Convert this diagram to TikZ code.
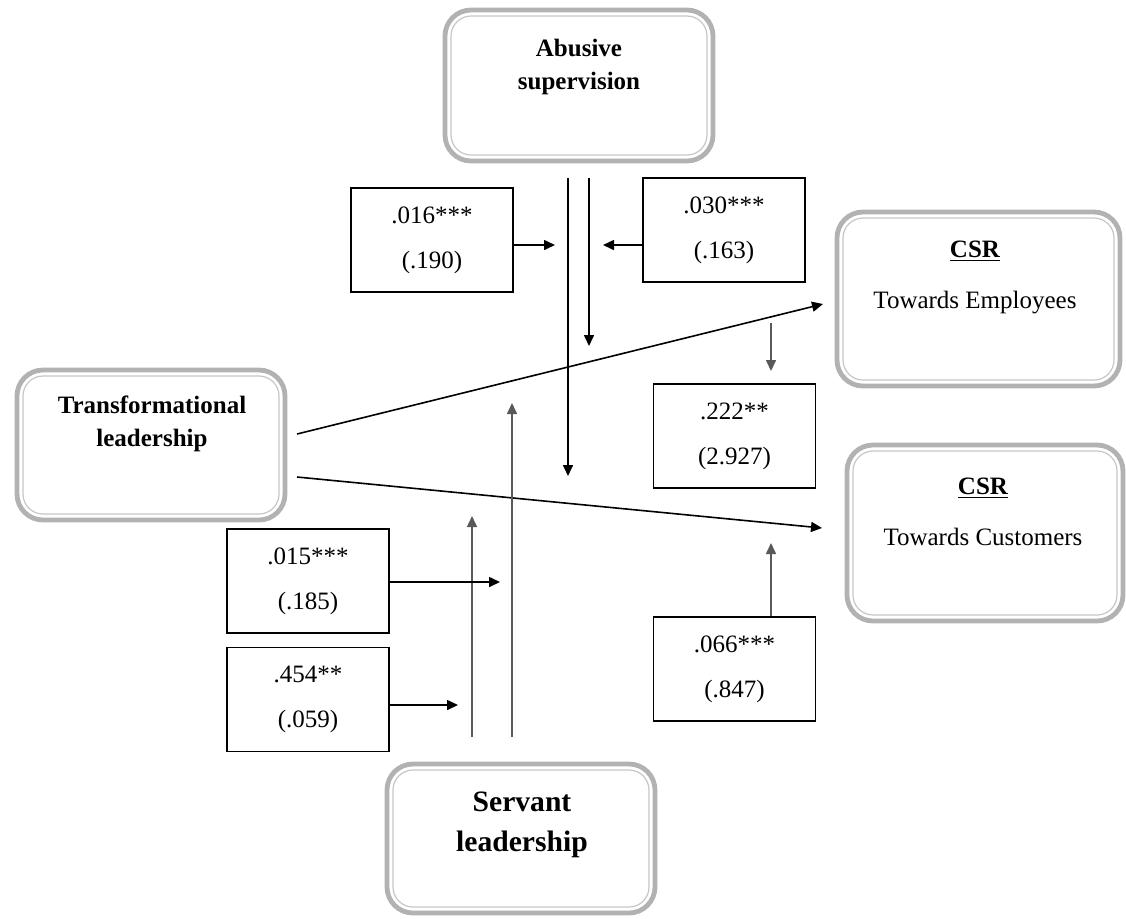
\documentclass[tikz,border=0pt]{standalone}
\usepackage{fontspec}
\setmainfont{Liberation Serif}
\usetikzlibrary{arrows.meta, positioning}
\tikzset{
	font = {\fontsize{12.5pt}{22.5pt}\selectfont},
	mainbox/.style = {rectangle, draw = gray!60, line width = 2.4pt, rounded corners = 13pt, outer sep = 0pt, inner sep = 0pt},
	innerline/.style = {draw = gray!45, line width = 0.6pt, rounded corners = 10pt},
	title/.style = {align = center, inner sep = 0pt, font = {\fontsize{12.5pt}{16.5pt}\selectfont\bfseries}},
	csrtext/.style = {align = center, inner sep = 0pt, font = {\fontsize{12.5pt}{25.5pt}\selectfont}},
	valbox/.style = {rectangle, draw = black, line width = 0.8pt, minimum width = 81pt, minimum height = 52pt, align = center, inner sep = 0pt},
	arrow/.style = {-{Triangle[length = 5.5pt, width = 5pt]}, draw = black, line width = 0.8pt},
	greyarrow/.style = {arrow, draw = black!65}
}

\begin{document}
\begin{tikzpicture}[x = 0.5pt, y = -0.5pt]
	\useasboundingbox (0,0) rectangle (1126,918);
	
	%%%%%%%% main constructs %%%%%%%%
	\node (abuse) [mainbox, minimum width = 134pt, minimum height = 75.5pt] at (579,85.5) {};
	\node (transf) [mainbox, minimum width = 134pt, minimum height = 75pt] at (151,445) {};
	\node (servant) [mainbox, minimum width = 134pt, minimum height = 74.5pt] at (521,838.5) {};
	\node (csremp) [mainbox, minimum width = 141.5pt, minimum height = 87pt] at (978.5,299) {};
	\node (csrcus) [mainbox, minimum width = 138pt, minimum height = 88pt] at (985,533) {};
	% inner lines
	\draw [innerline] ([shift={(3pt,-3pt)}]abuse.north west) rectangle ([shift={(-3pt,3pt)}]abuse.south east);
	\draw [innerline] ([shift={(3pt,-3pt)}]transf.north west) rectangle ([shift={(-3pt,3pt)}]transf.south east);
	\draw [innerline] ([shift={(3pt,-3pt)}]servant.north west) rectangle ([shift={(-3pt,3pt)}]servant.south east);
	\draw [innerline] ([shift={(3pt,-3pt)}]csremp.north west) rectangle ([shift={(-3pt,3pt)}]csremp.south east);
	\draw [innerline] ([shift={(3pt,-3pt)}]csrcus.north west) rectangle ([shift={(-3pt,3pt)}]csrcus.south east);
	% texts
	\node (abusetxt) [title] at (579,66.5) {Abusive\\supervision};
	\node (transftxt) [title] at (152,423.5) {Transformational\\leadership};
	\node (servanttxt) [title, font = {\fontsize{14.8pt}{20pt}\selectfont\bfseries}] at (522,825) {Servant\\leadership};
	\node (csremptxt) [csrtext] at (975,277.5) {\textbf{\underline{CSR}}\\Towards Employees};
	\node (csrcustxt) [csrtext] at (983,511.5) {\textbf{\underline{CSR}}\\Towards Customers};
	
	%%%%%%%% coefficients %%%%%%%%
	\node (v016) [valbox] at (432,240) {.016***\\(.190)};
	\node (v030) [valbox] at (724,230) {.030***\\(.163)};
	\node (v222) [valbox] at (734.5,436) {.222**\\(2.927)};
	\node (v066) [valbox] at (734.5,669) {.066***\\(.847)};
	\node (v015) [valbox] at (308,581) {.015***\\(.185)};
	\node (v454) [valbox] at (308,699.5) {.454**\\(.059)};
	
	%%% arrow ends %%%
	\coordinate (mod1) at (555,245);
	\coordinate (mod2) at (603,245);
	\coordinate (mod3) at (500,582);
	\coordinate (mod4) at (458,705);
	\coordinate (abtop1) at (568,178);
	\coordinate (abend1) at (568,476);
	\coordinate (abtop2) at (589,178);
	\coordinate (abend2) at (589,346);
	\coordinate (svbot1) at (472,737);
	\coordinate (svend1) at (472,516);
	\coordinate (svbot2) at (512,737);
	\coordinate (svend2) at (512,403);
	\coordinate (tlout1) at (297,434);
	\coordinate (empin) at (823,304);
	\coordinate (tlout2) at (297,477);
	\coordinate (cusin) at (822,528);
	\coordinate (emptop) at (771,323);
	\coordinate (empmod) at (771,371);
	\coordinate (cusmod) at (771,543);
	
	%%% arrows %%%
	\draw [arrow] (tlout1) -- (empin);
	\draw [arrow] (tlout2) -- (cusin);
	
	\draw [arrow] (abtop1) -- (abend1);
	\draw [arrow] (abtop2) -- (abend2);
	\draw [arrow] (v016.east |- mod1) -- (mod1);
	\draw [arrow] (v030.west |- mod2) -- (mod2);
	
	\draw [greyarrow] (svbot1) -- (svend1);
	\draw [greyarrow] (svbot2) -- (svend2);
	\draw [arrow] (v015.east |- mod3) -- (mod3);
	\draw [arrow] (v454.east |- mod4) -- (mod4);
	
	\draw [greyarrow] (emptop) -- (empmod);
	\draw [greyarrow] (v066.north -| cusmod) -- (cusmod);
\end{tikzpicture}
\end{document}
